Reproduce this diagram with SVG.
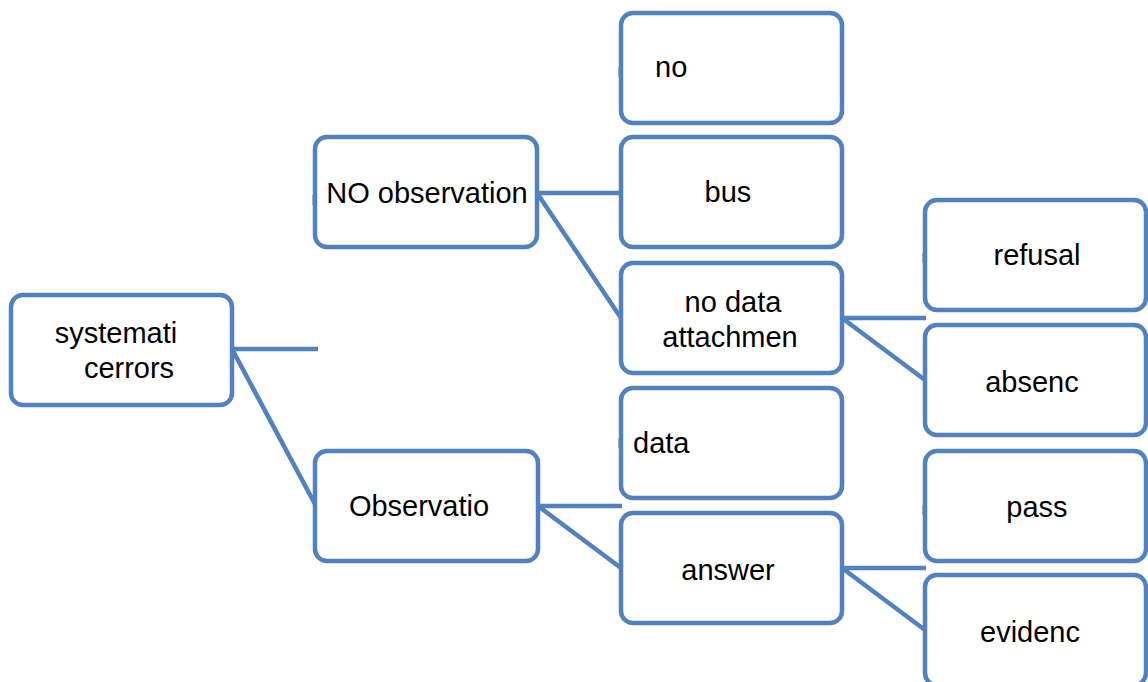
<svg xmlns="http://www.w3.org/2000/svg" width="1148" height="682" viewBox="0 0 1148 682">
<style>
.box{fill:#ffffff;stroke:#5181c0;stroke-width:4.5}
.ln{stroke:#5181c0;stroke-width:4.5;fill:none}
.tick{stroke:#5181c0;stroke-width:3}
text{font-family:"Liberation Sans",Arial,sans-serif;font-size:29px;fill:#000}
.c{text-anchor:middle}
</style>
<rect width="1148" height="682" fill="#ffffff"/>
<g id="connectors">
<line class="ln" x1="232" y1="349" x2="318" y2="349"/>
<line class="ln" x1="232" y1="349" x2="316" y2="506"/>
<line class="ln" x1="537" y1="193" x2="621" y2="193"/>
<line class="ln" x1="537" y1="193" x2="621" y2="318"/>
<line class="ln" x1="842" y1="318" x2="926" y2="318"/>
<line class="ln" x1="842" y1="318" x2="925" y2="380"/>
<line class="ln" x1="538" y1="506" x2="622" y2="506"/>
<line class="ln" x1="538" y1="506" x2="621" y2="568"/>
<line class="ln" x1="842" y1="568" x2="926" y2="568"/>
<line class="ln" x1="842" y1="568" x2="925" y2="630"/>
</g>
<g id="n-root">
<rect class="box" x="11" y="295" width="221" height="110" rx="12"/>
<text class="c" x="116" y="343">systemati</text>
<text class="c" x="129" y="378">cerrors</text>
</g>
<g id="n-noobs">
<rect class="box" x="315" y="137" width="222" height="110" rx="12"/>
<line class="tick" x1="314" y1="195" x2="314" y2="205"/>
<text class="c" x="427" y="203">NO observation</text>
</g>
<g id="n-no">
<rect class="box" x="621" y="13" width="221" height="110" rx="12"/>
<line class="tick" x1="620" y1="67" x2="620" y2="77"/>
<text x="655" y="77">no</text>
</g>
<g id="n-bus">
<rect class="box" x="621" y="137" width="221" height="110" rx="12"/>
<text class="c" x="728" y="202">bus</text>
</g>
<g id="n-nodata">
<rect class="box" x="621" y="263" width="221" height="110" rx="12"/>
<text class="c" x="733" y="312">no data</text>
<text class="c" x="730" y="347">attachmen</text>
</g>
<g id="n-refusal">
<rect class="box" x="925" y="200" width="221" height="110" rx="12"/>
<line class="tick" x1="924" y1="253" x2="924" y2="263"/>
<text class="c" x="1037" y="265">refusal</text>
</g>
<g id="n-absenc">
<rect class="box" x="925" y="325" width="221" height="110" rx="12"/>
<text class="c" x="1032" y="392">absenc</text>
</g>
<g id="n-obs">
<rect class="box" x="315" y="451" width="223" height="110" rx="12"/>
<text class="c" x="419" y="516">Observatio</text>
</g>
<g id="n-data">
<rect class="box" x="621" y="388" width="221" height="110" rx="12"/>
<line class="tick" x1="620" y1="438" x2="620" y2="448"/>
<text x="633" y="453">data</text>
</g>
<g id="n-answer">
<rect class="box" x="621" y="513" width="221" height="110" rx="12"/>
<text class="c" x="728" y="580">answer</text>
</g>
<g id="n-pass">
<rect class="box" x="925" y="451" width="221" height="110" rx="12"/>
<line class="tick" x1="924" y1="505" x2="924" y2="515"/>
<text class="c" x="1037" y="517">pass</text>
</g>
<g id="n-evidenc">
<rect class="box" x="925" y="575" width="221" height="110" rx="12"/>
<text class="c" x="1030" y="642">evidenc</text>
</g>
</svg>
